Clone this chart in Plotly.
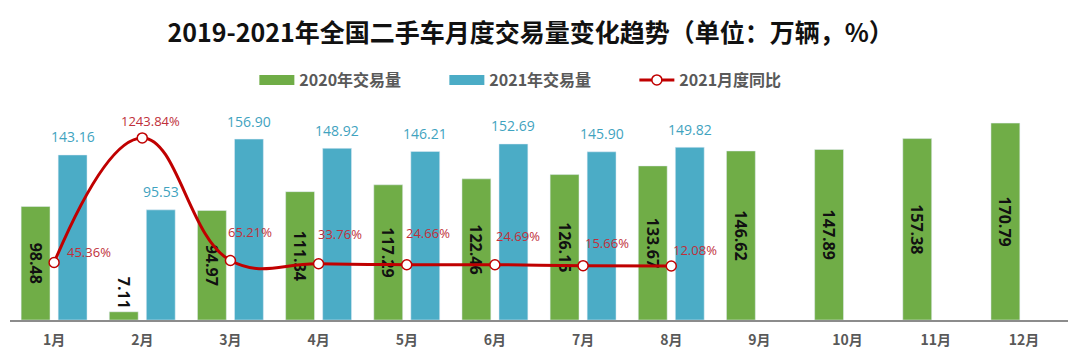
import plotly.graph_objects as go

months = ['1月', '2月', '3月', '4月', '5月', '6月', '7月', '8月', '9月', '10月', '11月', '12月']
vol_2020 = [98.48, 7.11, 94.97, 111.34, 117.29, 122.46, 126.15, 133.67, 146.62, 147.89, 157.38, 170.79]
vol_2021 = [143.16, 95.53, 156.90, 148.92, 146.21, 152.69, 145.90, 149.82, None, None, None, None]
yoy_2021 = [45.36, 1243.84, 65.21, 33.76, 24.66, 24.69, 15.66, 12.08]

# label offsets (style only, in px)
yoy_xshift = [35, 8, 20, 21, 21, 23, 24, 24]
yoy_yshift = [11, 17, 28, 30, 32, 29, 23, 16]

GREEN = '#70AD47'
BLUE = '#4BACC6'
RED = '#C00000'
FONT = 'Open Sans, Noto Sans CJK SC, sans-serif'

green_pos = ['outside' if v < 20 else 'inside' for v in vol_2020]

fig = go.Figure()
fig.add_trace(go.Bar(
    x=months, y=vol_2020, name='2020年交易量', marker_color=GREEN, showlegend=False,
    texttemplate='<b>%{y:.2f}</b>', textangle=90, textposition=green_pos,
    insidetextanchor='middle', constraintext='none',
    textfont=dict(family=FONT, size=16, color='#111111'), cliponaxis=False,
))
fig.add_trace(go.Bar(
    x=months, y=vol_2021, name='2021年交易量', marker_color=BLUE, showlegend=False,
))
fig.add_trace(go.Scatter(
    x=months[:len(yoy_2021)], y=yoy_2021, name='<b>2021月度同比</b>', yaxis='y2',
    mode='lines+markers', line=dict(color=RED, width=3, shape='spline', smoothing=1.2),
    marker=dict(size=10, color='white', line=dict(color=RED, width=1.5)),
    cliponaxis=False, legendrank=3,
))
# legend-only entries drawn as wide rectangles
fig.add_trace(go.Scatter(x=[None], y=[None], mode='lines', name='<b>2020年交易量</b>',
                         line=dict(color=GREEN, width=10), legendrank=1))
fig.add_trace(go.Scatter(x=[None], y=[None], mode='lines', name='<b>2021年交易量</b>',
                         line=dict(color=BLUE, width=10), legendrank=2))

# 2021 value labels above the blue bars
for m, v in zip(months, vol_2021):
    if v is None:
        continue
    fig.add_annotation(x=m, y=v, yref='y', text=f'{v:.2f}', showarrow=False,
                       xshift=18.5, yshift=18, yanchor='middle',
                       font=dict(family=FONT, size=14, color='#3FA3C0'))

for m, v, dx, dy in zip(months, yoy_2021, yoy_xshift, yoy_yshift):
    fig.add_annotation(x=m, y=v, yref='y2', text=f'{v:.2f}%', showarrow=False,
                       xshift=dx, yshift=dy,
                       font=dict(family=FONT, size=13, color='#C0303A'))

fig.update_layout(
    width=1080, height=361,
    margin=dict(l=2, r=20, t=97, b=49),
    paper_bgcolor='white', plot_bgcolor='white',
    barmode='group', bargap=0.16, bargroupgap=0.22,
    title=dict(text='<b>2019-2021年全国二手车月度交易量变化趋势（单位：万辆，%）</b>',
               x=0.484, xanchor='center', y=0.93, yanchor='middle',
               font=dict(family='Noto Sans CJK SC', size=25, color='#111111')),
    legend=dict(orientation='h', xref='container', x=0.492, xanchor='center',
                yref='container', y=1 - 72 / 361, yanchor='middle',
                font=dict(family='Noto Sans CJK SC', size=16, color='#595959'),
                entrywidth=140, itemwidth=35, traceorder='normal'),
    xaxis=dict(showline=True, linecolor='#8C8C8C', linewidth=2, ticks='',
               range=[-0.5, 11.5], fixedrange=True, ticklabelstandoff=6,
               tickfont=dict(family='Noto Sans CJK SC', size=14, color='#595959'),
               showgrid=False),
    yaxis=dict(range=[0, 186.5], visible=False, showgrid=False),
    yaxis2=dict(range=[-507, 1560], overlaying='y', side='right', visible=False,
                showgrid=False),
    showlegend=True,
)
fig.update_xaxes(tickprefix='<b>', ticksuffix='</b>')

fig.write_html('out.html')
